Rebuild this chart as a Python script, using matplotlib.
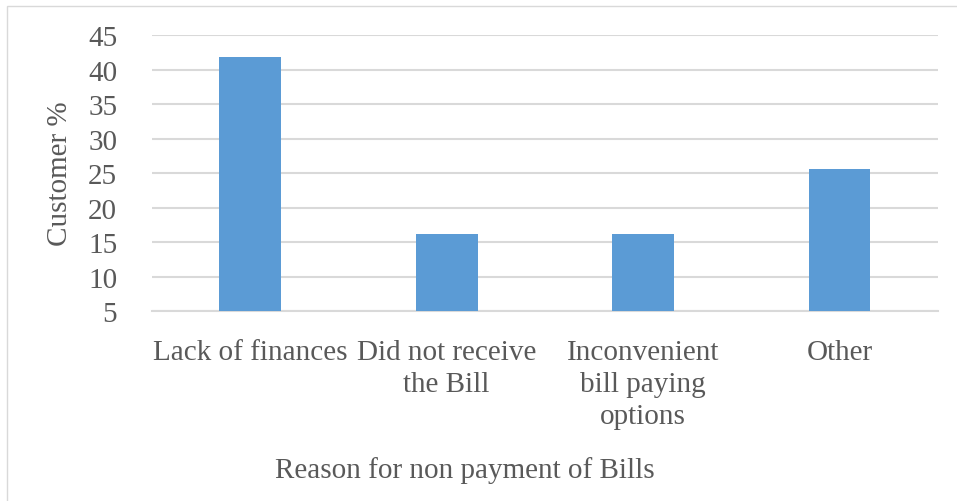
import matplotlib.pyplot as plt
from matplotlib.patches import Rectangle

reasons = ["Lack of finances", "Did not receive\nthe Bill",
           "Inconvenient\nbill paying\noptions", "Other"]
customer_pct = [41.8, 16.2, 16.2, 25.6]
yticks = [5, 10, 15, 20, 25, 30, 35, 40, 45]

plt.rcParams['font.family'] = ['Liberation Serif', 'DejaVu Serif']
grey = '#595959'

fig = plt.figure(figsize=(9.57, 5.02), dpi=100)
ax = fig.add_axes([0.1588, 0.378, 0.9798 - 0.1588, 0.9283 - 0.378])

x = range(len(reasons))
ax.bar(x, customer_pct, width=0.315, color='#5b9bd5', zorder=3)

ax.set_xlim(-0.5, 3.5)
ax.set_ylim(5, 45)
ax.set_yticks(yticks)
ax.grid(axis='y', color='#d9d9d9', linewidth=1.5, zorder=0)
ax.set_xticks(list(x))
ax.set_xticklabels(reasons, fontsize=21, color=grey, linespacing=1.29)
ax.tick_params(axis='both', length=0, labelsize=21, labelcolor=grey)
ax.tick_params(axis='x', pad=20)
ax.tick_params(axis='y', pad=25)

for s in ['top', 'right', 'left']:
    ax.spines[s].set_visible(False)
ax.spines['bottom'].set_color('#d9d9d9')
ax.spines['bottom'].set_linewidth(1.5)

ax.set_ylabel("Customer %", fontsize=21, color=grey, labelpad=11)
fig.text(0.486, 0.062, "Reason for non payment of Bills", fontsize=21,
         color=grey, ha='center', va='center')

fig.patches.append(Rectangle((7 / 957, -0.1), 1.2, 1.1 - 7 / 502,
                             transform=fig.transFigure, fill=False,
                             edgecolor='#d9d9d9', linewidth=1))

fig.savefig("out.png", dpi=100)
